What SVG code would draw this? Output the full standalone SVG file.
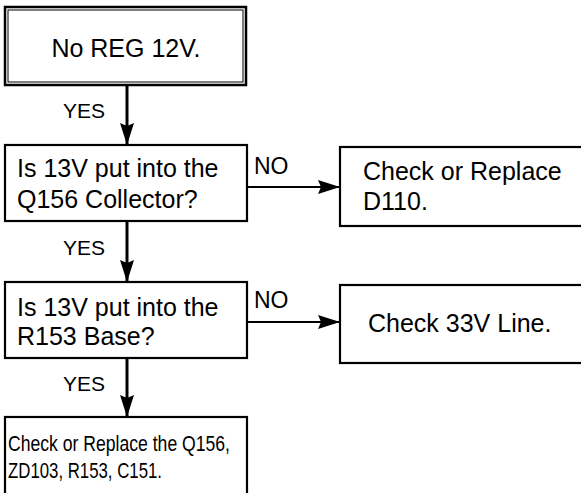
<svg xmlns="http://www.w3.org/2000/svg" width="581" height="493" viewBox="0 0 581 493">
<style>
.box{fill:#fff;stroke:#000;stroke-width:2.2}
.t{font-family:"Liberation Sans",Arial,sans-serif;font-size:25px;fill:#000}
.lbl{font-family:"Liberation Sans",Arial,sans-serif;font-size:21px;fill:#000}
.v{stroke:#000;stroke-width:3;fill:none}
.h{stroke:#000;stroke-width:2;fill:none}
</style>
<defs>
<marker id="av" markerUnits="userSpaceOnUse" markerWidth="22" markerHeight="14" refX="22" refY="7" orient="auto" viewBox="0 0 22 14"><path d="M0,0 L22,7 L0,14 L3,7 Z" fill="#000"/></marker>
</defs>
<rect width="581" height="493" fill="#fff"/>
<g id="connectors">
<line class="v" x1="127" y1="85" x2="127" y2="145" marker-end="url(#av)"/>
<line class="v" x1="127" y1="221" x2="127" y2="282" marker-end="url(#av)"/>
<line class="v" x1="127" y1="358" x2="127" y2="417" marker-end="url(#av)"/>
<line class="h" x1="247" y1="187" x2="340" y2="187" marker-end="url(#av)"/>
<line class="h" x1="247" y1="322" x2="340" y2="322" marker-end="url(#av)"/>
<text class="lbl" x="63" y="118">YES</text>
<text class="lbl" x="63" y="255">YES</text>
<text class="lbl" x="63" y="391">YES</text>
<text class="lbl" x="254" y="174" style="font-size:23px">NO</text>
<text class="lbl" x="254" y="308" style="font-size:23px">NO</text>
</g>
<g id="start">
<rect x="5" y="7" width="241" height="78" fill="#fff" stroke="#000" stroke-width="2.5"/>
<rect x="8" y="10" width="235" height="72" fill="none" stroke="#000" stroke-width="1"/>
<text class="t" x="126" y="57" text-anchor="middle">No REG 12V.</text>
</g>
<g id="q1">
<rect class="box" x="5" y="145" width="242" height="76"/>
<text class="t" x="17" y="177">Is 13V put into the</text>
<text class="t" x="17" y="208">Q156 Collector?</text>
</g>
<g id="d110">
<rect class="box" x="340" y="147" width="250" height="79"/>
<text class="t" x="363" y="180">Check or Replace</text>
<text class="t" x="363" y="210">D110.</text>
</g>
<g id="q2">
<rect class="box" x="5" y="282" width="242" height="76"/>
<text class="t" x="17" y="316">Is 13V put into the</text>
<text class="t" x="17" y="345">R153 Base?</text>
</g>
<g id="line33">
<rect class="box" x="340" y="285" width="250" height="78"/>
<text class="t" x="368" y="332">Check 33V Line.</text>
</g>
<g id="final">
<rect class="box" x="5" y="417" width="242" height="90"/>
<text class="t" x="8" y="451" textLength="222" lengthAdjust="spacingAndGlyphs" style="font-size:22px">Check or Replace the Q156,</text>
<text class="t" x="8" y="478" textLength="154" lengthAdjust="spacingAndGlyphs" style="font-size:22px">ZD103, R153, C151.</text>
</g>
</svg>
